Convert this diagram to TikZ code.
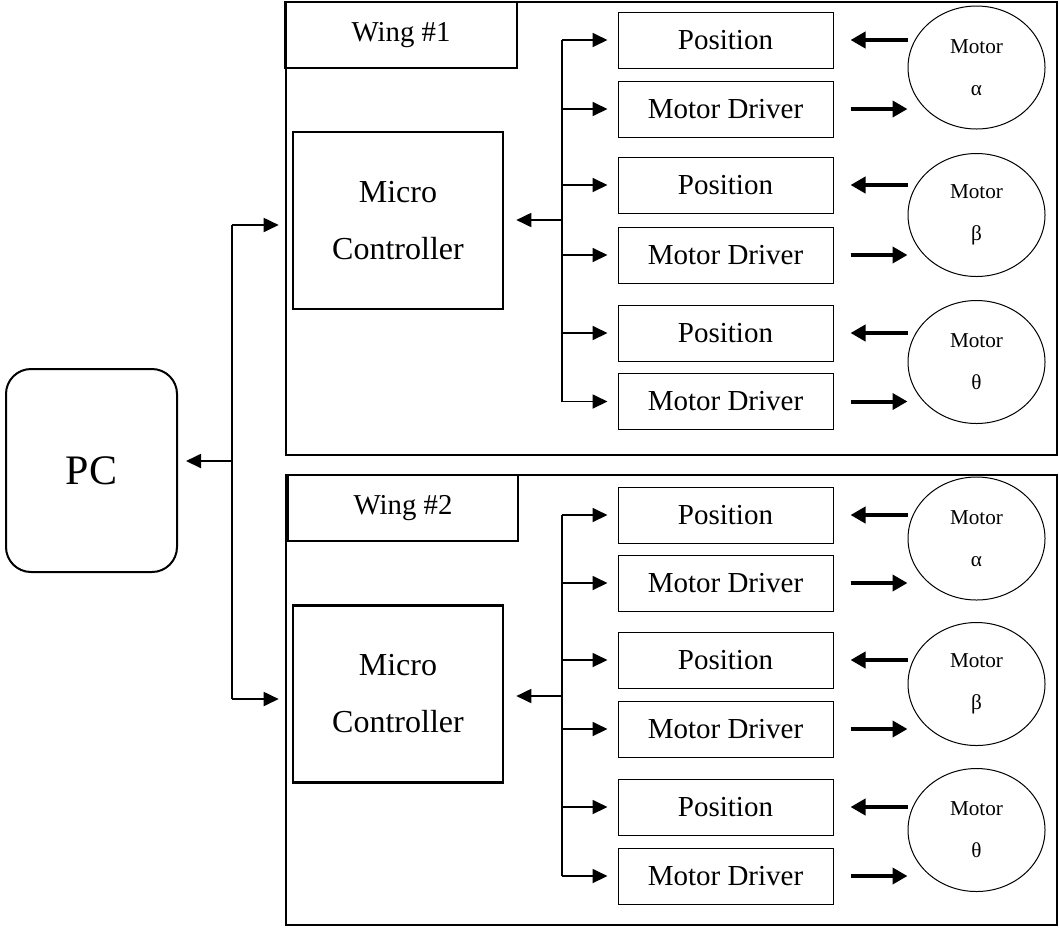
\documentclass[tikz,border=0pt]{standalone}
\usepackage{fontspec}
\setmainfont{Liberation Serif}
\usetikzlibrary{arrows.meta,shapes.geometric}

\begin{document}
\begin{tikzpicture}[x=0.5pt,y=-0.5pt,
	wing/.style={draw=black,line width=1.3pt,minimum width=385.5pt,inner sep=0pt},
	tag/.style={draw=black,line width=0.6pt,minimum height=33pt,inner sep=0pt,font=\fontsize{14.4}{17}\selectfont},
	mcu/.style={draw=black,line width=1.3pt,minimum width=105pt,minimum height=88.5pt,inner sep=0pt,align=center,font=\fontsize{16}{28.5}\selectfont},
	unit/.style={draw=black,line width=0.5pt,minimum width=107.5pt,minimum height=28pt,inner sep=0pt,font=\fontsize{14.5}{17}\selectfont},
	motor/.style={shape=ellipse,draw=black,line width=0.5pt,minimum width=68.5pt,minimum height=61.5pt,inner sep=0pt,align=center,font=\fontsize{10.6}{21}\selectfont},
	bus/.style={line width=0.75pt},
	sig/.style={->,line width=0.9pt,>={Triangle[length=7.5pt,width=7pt]}},
	drive/.style={->,line width=2pt,>={Triangle[length=7.5pt,width=8pt]}}
	]
	\useasboundingbox (0,0) rectangle (1059,928);

	\node[draw=black,line width=1pt,rounded corners=12.5pt,minimum width=85.5pt,minimum height=101.5pt,font=\fontsize{21}{25}\selectfont] (pc) at (91.5,470.5) {PC};

	% wing 1
	\node[wing,minimum height=226.5pt] (w1) at (671.5,228.5) {};
	\node[tag,minimum width=116pt] (w1tag) at (401,35) {Wing \#1};
	\node[mcu] (mc1) at (398,220.5) {Micro\\Controller};
	\node[unit] (pos1a) at (725.5,40)    {Position};
	\node[unit] (drv1a) at (725.5,109)   {Motor Driver};
	\node[unit] (pos1b) at (725.5,185)   {Position};
	\node[unit] (drv1b) at (725.5,255)   {Motor Driver};
	\node[unit] (pos1c) at (725.5,333)   {Position};
	\node[unit] (drv1c) at (725.5,401.5) {Motor Driver};
	\node[motor] (mot1a) at (976.5,67.5) {Motor\\α};
	\node[motor] (mot1b) at (976.5,215)  {Motor\\β};
	\node[motor] (mot1c) at (976.5,362)  {Motor\\θ};

	% wing 2
	\node[wing,minimum height=225pt] (w2) at (671.5,700) {};
	\node[tag,minimum width=115pt] (w2tag) at (403,508) {Wing \#2};
	\node[mcu] (mc2) at (398,694) {Micro\\Controller};
	\node[unit] (pos2a) at (725.5,515) {Position};
	\node[unit] (drv2a) at (725.5,583) {Motor Driver};
	\node[unit] (pos2b) at (725.5,660) {Position};
	\node[unit] (drv2b) at (725.5,729) {Motor Driver};
	\node[unit] (pos2c) at (725.5,807) {Position};
	\node[unit] (drv2c) at (725.5,876) {Motor Driver};
	\node[motor] (mot2a) at (976.5,538.5) {Motor\\α};
	\node[motor] (mot2b) at (976.5,684)   {Motor\\β};
	\node[motor] (mot2c) at (976.5,830)   {Motor\\θ};

	% PC link
	\coordinate (pcbus) at (232,461);
	\coordinate (w1in) at (232,225);
	\coordinate (w2in) at (232,699);
	\draw[bus] (w1in) -- (w2in);
	\draw[sig,shorten >=4pt] (pcbus) -- (pcbus -| pc.east);
	\draw[sig,shorten >=3pt] (w1in) -- (w1in -| w1.west);
	\draw[sig,shorten >=3pt] (w2in) -- (w2in -| w2.west);

	% controller bus, wing 1
	\coordinate (bus1) at (562,220);
	\draw[bus] (bus1 |- pos1a.west) -- (bus1 |- drv1c.west);
	\draw[sig,shorten >=6pt] (bus1) -- (bus1 -| mc1.east);
	\draw[sig,shorten >=5pt] (bus1 |- pos1a.west) -- (pos1a.west);
	\draw[sig,shorten >=5pt] (bus1 |- drv1a.west) -- (drv1a.west);
	\draw[sig,shorten >=5pt] (bus1 |- pos1b.west) -- (pos1b.west);
	\draw[sig,shorten >=5pt] (bus1 |- drv1b.west) -- (drv1b.west);
	\draw[sig,shorten >=5pt] (bus1 |- pos1c.west) -- (pos1c.west);
	\draw[sig,shorten >=5pt] (bus1 |- drv1c.west) -- (drv1c.west);

	% controller bus, wing 2
	\coordinate (bus2) at (562,696);
	\draw[bus] (bus2 |- pos2a.west) -- (bus2 |- drv2c.west);
	\draw[sig,shorten >=6pt] (bus2) -- (bus2 -| mc2.east);
	\draw[sig,shorten >=5pt] (bus2 |- pos2a.west) -- (pos2a.west);
	\draw[sig,shorten >=5pt] (bus2 |- drv2a.west) -- (drv2a.west);
	\draw[sig,shorten >=5pt] (bus2 |- pos2b.west) -- (pos2b.west);
	\draw[sig,shorten >=5pt] (bus2 |- drv2b.west) -- (drv2b.west);
	\draw[sig,shorten >=5pt] (bus2 |- pos2c.west) -- (pos2c.west);
	\draw[sig,shorten >=5pt] (bus2 |- drv2c.west) -- (drv2c.west);

	% motors
	\draw[drive,<-,shorten <=8.5pt] (pos1a.east) -- (pos1a.east -| mot1a.west);
	\draw[drive,shorten <=8.5pt] (drv1a.east) -- (drv1a.east -| mot1a.west);
	\draw[drive,<-,shorten <=8.5pt] (pos1b.east) -- (pos1b.east -| mot1b.west);
	\draw[drive,shorten <=8.5pt] (drv1b.east) -- (drv1b.east -| mot1b.west);
	\draw[drive,<-,shorten <=8.5pt] (pos1c.east) -- (pos1c.east -| mot1c.west);
	\draw[drive,shorten <=8.5pt] (drv1c.east) -- (drv1c.east -| mot1c.west);

	\draw[drive,<-,shorten <=8.5pt] (pos2a.east) -- (pos2a.east -| mot2a.west);
	\draw[drive,shorten <=8.5pt] (drv2a.east) -- (drv2a.east -| mot2a.west);
	\draw[drive,<-,shorten <=8.5pt] (pos2b.east) -- (pos2b.east -| mot2b.west);
	\draw[drive,shorten <=8.5pt] (drv2b.east) -- (drv2b.east -| mot2b.west);
	\draw[drive,<-,shorten <=8.5pt] (pos2c.east) -- (pos2c.east -| mot2c.west);
	\draw[drive,shorten <=8.5pt] (drv2c.east) -- (drv2c.east -| mot2c.west);

\end{tikzpicture}
\end{document}
